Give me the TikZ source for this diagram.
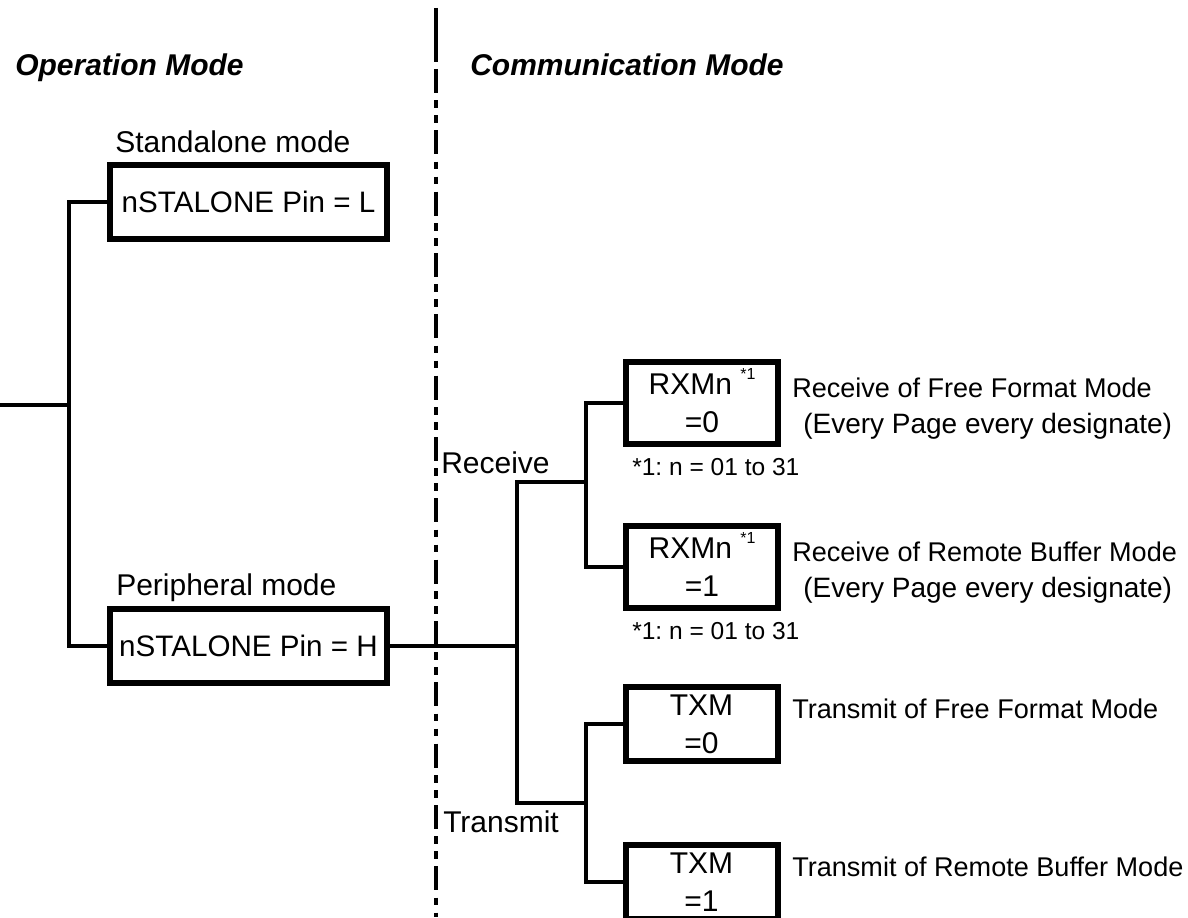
\documentclass[tikz,border=0pt]{standalone}
\usepackage{fontspec}
\setmainfont{Liberation Sans}
\begin{document}
\frenchspacing
\begin{tikzpicture}[x=0.75pt,y=-0.75pt,
  txt/.style={inner sep=0pt, anchor=base west, font=\fontsize{22.5}{27}\selectfont},
  head/.style={inner sep=0pt, anchor=base west, font=\fontsize{22.5}{27}\selectfont\bfseries\itshape},
  desc/.style={inner sep=0pt, anchor=base west, font=\fontsize{20.3}{24}\selectfont},
  descb/.style={inner sep=0pt, anchor=base west, font=\fontsize{21}{25}\selectfont},
  note/.style={inner sep=0pt, anchor=base west, font=\fontsize{18.4}{22}\selectfont\frenchspacing},
  modebox/.style={draw, line width=4.5pt, inner sep=0pt, minimum width=207.75pt, minimum height=55.5pt, font=\fontsize{22.2}{27}\selectfont},
  regbox/.style={draw, line width=4.5pt, inner sep=0pt, minimum width=114pt, align=center, font=\fontsize{22.5}{28.5}\selectfont},
  conn/.style={line width=2.6pt, line join=miter},
  divider/.style={line width=3pt}]
\useasboundingbox (0,0) rectangle (1188,917);

% divider
\coordinate (dt) at (436,8);
\coordinate (dm) at (436,62);
\coordinate (ds) at (436,69);
\coordinate (db) at (436,917);
\draw[divider] (dt) -- (dm);
\draw[divider, dash pattern=on 18pt off 5.5pt on 5.75pt off 5.5pt on 5.75pt off 5.5pt] (ds) -- (db);

% headings and labels
\node[head] (opm) at (15,75) {Operation Mode};
\node[head] (com) at (470,75) {Communication Mode};
\node[txt] (sal) at (115,152) {Standalone mode};
\node[txt] (per) at (116,595) {Peripheral mode};
\node[txt] (rcv) at (441,473) {Receive};
\node[txt] (trm) at (443,832) {Transmit};

% boxes
\node[modebox] (L) at (248.5,202) {nSTALONE Pin = L};
\node[modebox] (H) at (248.5,646) {nSTALONE Pin = H};
\node[regbox, minimum height=61.5pt] (RX0) at (702,403) {RXMn \smash{\raisebox{11.25pt}{\fontsize{12}{12}\selectfont *1}}\\=0};
\node[regbox, minimum height=61.5pt] (RX1) at (702,567) {RXMn \smash{\raisebox{11.25pt}{\fontsize{12}{12}\selectfont *1}}\\=1};
\node[regbox, minimum height=55.5pt] (TX0) at (701.5,724) {TXM\\=0};
\node[regbox, minimum height=55.5pt] (TX1) at (701.5,882) {TXM\\=1};

% descriptions
\node[desc] (d0) at (792,397) {Receive of Free Format Mode};
\node[descb] (d0b) at (803,433) {(Every Page every designate)};
\node[note] (n0) at (632,475) {*1: n = 01 to 31};
\node[desc] (d1) at (792,561) {Receive of Remote Buffer Mode};
\node[descb] (d1b) at (803,597) {(Every Page every designate)};
\node[note] (n1) at (632,639) {*1: n = 01 to 31};
\node[desc] (d2) at (792,718) {Transmit of Free Format Mode};
\node[desc] (d3) at (792,876) {Transmit of Remote Buffer Mode};

% connectors
\coordinate (stub) at (0,405);
\coordinate (lv) at (69,405);
\draw[conn] (stub) -- (lv);
\draw[conn] (L.west) -| (lv) |- (H.west);
\coordinate (tr) at (517,646);
\coordinate (rj) at (517,482);
\coordinate (tj) at (517,803);
\coordinate (rv) at (586,482);
\coordinate (tv) at (586,803);
\draw[conn] (H.east) -- (tr);
\draw[conn] (rv) -- (rj) -- (tj) -- (tv);
\draw[conn] (RX0.west) -| (rv) |- (RX1.west);
\draw[conn] (TX0.west) -| (tv) |- (TX1.west);
\end{tikzpicture}
\end{document}
